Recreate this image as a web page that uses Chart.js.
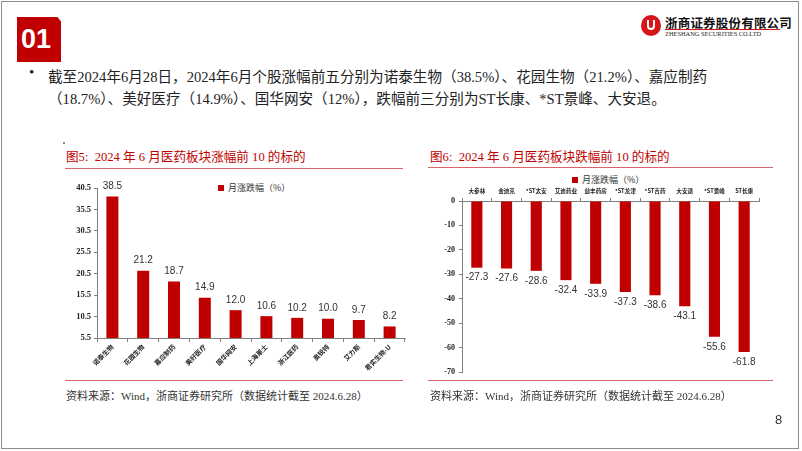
<!DOCTYPE html>
<html>
<head>
<meta charset="utf-8">
<script src="https://cdn.jsdelivr.net/npm/chart.js@4.4.1/dist/chart.umd.min.js"></script>
<style>
  body { margin: 0; background: #fff; }
  #page { position: relative; width: 802px; height: 451px; overflow: hidden; font-family: "Liberation Serif", "Noto Sans CJK SC", serif; color: #222; }
  #frame { position: absolute; left: 1px; top: 1px; width: 796px; height: 446px; border: 1px solid #8c8c8c; }
  #num { position: absolute; left: 17px; top: 17px; width: 44px; height: 45px; background: #c00000; clip-path: polygon(0 0, 92% 0, 100% 10%, 100% 100%, 0 100%); color: #fff; font: bold 27px "Liberation Sans", Arial, sans-serif; line-height: 45px; text-indent: 4px; }
  #logoCircle { position: absolute; left: 641px; top: 15px; width: 20px; height: 21px; border-radius: 50%; background: #d7141a; }
  #logoCircle:after { content: ""; position: absolute; left: 6px; top: 5px; width: 8px; height: 10px; border: 2px solid #fff; border-top: none; border-radius: 0 0 6px 6px; box-sizing: border-box; }
  #logoCn { position: absolute; left: 665px; top: 13px; font: bold 12.5px "Noto Sans CJK SC", sans-serif; letter-spacing: 0.2px; color: #111; }
  #logoLine { position: absolute; left: 665px; top: 29px; width: 115px; height: 1px; background: #d7141a; }
  #logoEn { position: absolute; left: 665px; top: 30px; font: 6.4px "Liberation Serif", serif; color: #222; white-space: nowrap; }
  #bullet { position: absolute; left: 29px; top: 64px; font-size: 15px; }
  .txt { position: absolute; font-size: 14.6px; white-space: nowrap; color: #222; }
  .ttl { position: absolute; font-size: 12.6px; color: #c00000; white-space: nowrap; }
  .rule { position: absolute; height: 1px; background: #d9636a; }
  .src { position: absolute; font-size: 11px; color: #333; white-space: nowrap; }
  .legend { position: absolute; font: 9px "Noto Sans CJK SC", sans-serif; color: #333; white-space: nowrap; }
  .legend i { display: inline-block; width: 6px; height: 6px; background: #c00000; margin-right: 4px; vertical-align: 0; }
  canvas { position: absolute; }
  #pageNo { position: absolute; left: 775px; top: 412px; font: 13px "Liberation Sans", Arial, sans-serif; color: #333; }
</style>
</head>
<body>
<div id="page">
  <div id="frame"></div>
  <div id="num">01</div>
  <div id="logoCircle"></div>
  <div id="logoCn">浙商证券股份有限公司</div>
  <div id="logoLine"></div>
  <div id="logoEn">ZHESHANG SECURITIES CO.LTD</div>

  <div id="bullet">•</div>
  <div class="txt" style="left:48px;top:65px;">截至2024年6月28日，2024年6月个股涨幅前五分别为诺泰生物（38.5%）、花园生物（21.2%）、嘉应制药</div>
  <div class="txt" style="left:48px;top:87px;">（18.7%）、美好医疗（14.9%）、国华网安（12%），跌幅前三分别为ST长康、*ST景峰、大安退。</div>

  <div style="position:absolute;left:63px;top:142px;width:2px;height:2px;background:#888;"></div>
  <div class="ttl" style="left:66px;top:146px;">图5:&nbsp;&nbsp;2024 年 6 月医药板块涨幅前 10 的标的</div>
  <div class="rule" style="left:65px;top:168px;width:338px;"></div>
  <div class="legend" style="left:218px;top:181px;"><i></i>月涨跌幅（%）</div>
  <canvas id="upChart" width="370" height="205" style="left:40px;top:175px;"></canvas>
  <div class="rule" style="left:65px;top:380px;width:338px;"></div>
  <div class="src" style="left:66px;top:387px;">资料来源：Wind，浙商证券研究所（数据统计截至 2024.6.28）</div>

  <div class="ttl" style="left:430px;top:146px;">图6:&nbsp;&nbsp;2024 年 6 月医药板块跌幅前 10 的标的</div>
  <div class="rule" style="left:428px;top:167px;width:345px;"></div>
  <div class="legend" style="left:572px;top:173px;"><i></i>月涨跌幅（%）</div>
  <canvas id="downChart" width="350" height="215" style="left:420px;top:170px;"></canvas>
  <div class="rule" style="left:428px;top:380px;width:345px;"></div>
  <div class="src" style="left:430px;top:387px;">资料来源：Wind，浙商证券研究所（数据统计截至 2024.6.28）</div>

  <div id="pageNo">8</div>
</div>

<script>
var upNames = ["诺泰生物", "花园生物", "嘉应制药", "美好医疗", "国华网安", "上海莱士", "浙江医药", "奥锐特", "艾力斯", "君实生物-U"];
var upValues = [38.5, 21.2, 18.7, 14.9, 12.0, 10.6, 10.2, 10.0, 9.7, 8.2];

var downNames = ["大参林", "金迪克", "*ST太安", "艾迪药业", "益丰药房", "*ST龙津", "*ST吉药", "大安退", "*ST景峰", "ST长康"];
var downValues = [-27.3, -27.6, -28.6, -32.4, -33.9, -37.3, -38.6, -43.1, -55.6, -61.8];

var barRed = "#c00000";
var axisGray = "#7f7f7f";

// value labels drawn next to each bar end
var valueLabels = {
  id: "valueLabels",
  afterDatasetsDraw: function (chart) {
    var ctx = chart.ctx;
    var meta = chart.getDatasetMeta(0);
    var values = chart.data.datasets[0].data;
    ctx.save();
    ctx.font = "10px 'Liberation Sans', Arial, sans-serif";
    ctx.fillStyle = "#333";
    ctx.textAlign = "center";
    meta.data.forEach(function (bar, i) {
      var v = values[i];
      if (v >= 0) {
        ctx.textBaseline = "bottom";
        ctx.fillText(v.toFixed(1), bar.x, bar.y - 5);
      } else {
        ctx.textBaseline = "top";
        ctx.fillText(v.toFixed(1), bar.x, bar.y + 5);
      }
    });
    ctx.restore();
  }
};

var upChart = new Chart(document.getElementById("upChart"), {
  type: "bar",
  data: {
    labels: upNames,
    datasets: [{ label: "月涨跌幅（%）", data: upValues, backgroundColor: barRed, barPercentage: 0.78, categoryPercentage: 0.5 }]
  },
  options: {
    responsive: false,
    animation: false,
    layout: { padding: { top: 13, right: 5, left: 0, bottom: 0 } },
    plugins: { legend: { display: false }, tooltip: { enabled: false } },
    scales: {
      x: {
        grid: { display: true, drawOnChartArea: false, drawTicks: true, tickLength: 4, color: axisGray },
        border: { color: axisGray },
        ticks: { color: "#222", font: { size: 6.5, weight: "bold", family: "'Noto Sans CJK SC', sans-serif" }, minRotation: 45, maxRotation: 45, padding: 1, autoSkip: false },
        afterFit: function (scale) { scale.height = 42; }
      },
      y: {
        min: 5.5,
        max: 40.5,
        ticks: { stepSize: 5, color: "#222", font: { size: 8.5, weight: "bold", family: "'Liberation Serif', serif" }, padding: 3, callback: function (v) { return v.toFixed(1); } },
        grid: { display: true, drawOnChartArea: false, drawTicks: true, tickLength: 3, color: axisGray },
        border: { color: axisGray },
        afterFit: function (scale) { scale.width = 57; }
      }
    }
  },
  plugins: [valueLabels]
});

var downChart = new Chart(document.getElementById("downChart"), {
  type: "bar",
  data: {
    labels: downNames,
    datasets: [{ label: "月涨跌幅（%）", data: downValues, backgroundColor: barRed, barPercentage: 0.75, categoryPercentage: 0.5 }]
  },
  options: {
    responsive: false,
    animation: false,
    layout: { padding: { top: 0, right: 11, left: 0, bottom: 13 } },
    plugins: { legend: { display: false }, tooltip: { enabled: false } },
    scales: {
      x: {
        position: "top",
        grid: { display: true, drawOnChartArea: false, drawTicks: true, tickLength: 3, color: axisGray },
        border: { color: axisGray },
        ticks: { color: "#222", font: { size: 5.6, weight: "bold", family: "'Noto Sans CJK SC', sans-serif" }, maxRotation: 0, minRotation: 0, padding: 4, autoSkip: false },
        afterFit: function (scale) { scale.height = 31; }
      },
      y: {
        min: -70,
        max: 0,
        ticks: { stepSize: 10, color: "#222", font: { size: 8, weight: "bold", family: "'Liberation Serif', serif" }, padding: 4 },
        grid: { display: true, drawOnChartArea: false, drawTicks: true, tickLength: 3, color: axisGray },
        border: { color: axisGray },
        afterFit: function (scale) { scale.width = 42; }
      }
    }
  },
  plugins: [valueLabels]
});
</script>
</body>
</html>
